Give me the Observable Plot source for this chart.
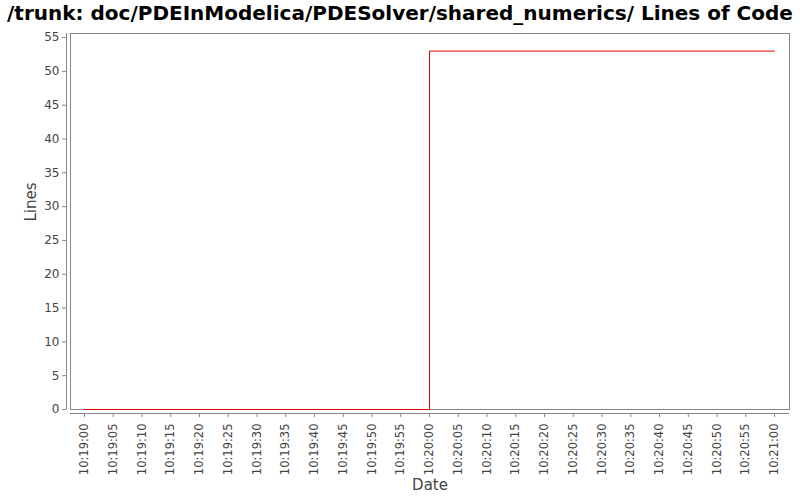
<!DOCTYPE html>
<html>
<head>
<meta charset="utf-8">
<script src="https://cdn.jsdelivr.net/npm/d3@7"></script>
<script src="https://cdn.jsdelivr.net/npm/@observablehq/plot@0.6"></script>
<style>
  html, body { margin: 0; padding: 0; background: #fff; }
  #title { height: 26px; line-height: 26px; text-align: center; font-family: "DejaVu Sans", sans-serif; font-weight: bold; font-size: 20px; color: #000; white-space: nowrap; }
  #chart svg { display: block; }
</style>
</head>
<body>
<div id="title">/trunk: doc/PDEInModelica/PDESolver/shared_numerics/ Lines of Code</div>
<div id="chart"></div>
<script>
const times = ["10:19:00", "10:20:00", "10:21:00"];
const lines = [0, 53, 53];
const yTicks = [0, 5, 10, 15, 20, 25, 30, 35, 40, 45, 50, 55];
const xTickStep = 5; // seconds

const day = "2013-01-01T";
const parse = s => new Date(day + s + "Z");
const data = times.map((t, i) => ({date: parse(t), value: lines[i]}));

const t0 = parse(times[0]);
const t1 = parse(times[times.length - 1]);
const xDomain = [new Date(+t0 - 2430), new Date(+t1 + 2600)];
const xTicks = d3.utcSecond.every(xTickStep).range(t0, new Date(+t1 + 1));
const fmt = d3.utcFormat("%H:%M:%S");

const chart = Plot.plot({
  width: 800,
  height: 474,
  marginTop: 7,
  marginBottom: 91,
  marginLeft: 70,
  marginRight: 11,
  style: {fontFamily: "DejaVu Sans, sans-serif", fontSize: "12px", color: "#444", background: "#fff"},
  x: {type: "utc", domain: xDomain},
  y: {domain: [0, 55.6]},
  marks: [
    Plot.frame({stroke: "#888", strokeWidth: 1}),
    Plot.ruleX([xDomain[0]], {dx: -4, stroke: "#888"}),
    Plot.axisY(yTicks, {tickSize: 4, dx: -4, tickPadding: 3, stroke: "#888", fill: "#444", fontSize: 12, label: null}),
    Plot.text(["Lines"], {frameAnchor: "left", dx: -39, rotate: -90, fontSize: 15, fill: "#444"}),
    Plot.ruleY([0], {dy: 4, stroke: "#888"}),
    Plot.axisX(xTicks, {tickSize: 4, dy: 4, tickRotate: -90, tickFormat: fmt, tickPadding: 6, stroke: "#888", fill: "#444", fontSize: 11.5, label: null}),
    Plot.text(["Date"], {frameAnchor: "bottom", lineAnchor: "middle", dy: 76, fontSize: 15, fill: "#444"}),
    Plot.line(data, {x: "date", y: "value", curve: "step-after", stroke: "#e00000", strokeWidth: 1})
  ]
});
document.getElementById("chart").appendChild(chart);
</script>
</body>
</html>
